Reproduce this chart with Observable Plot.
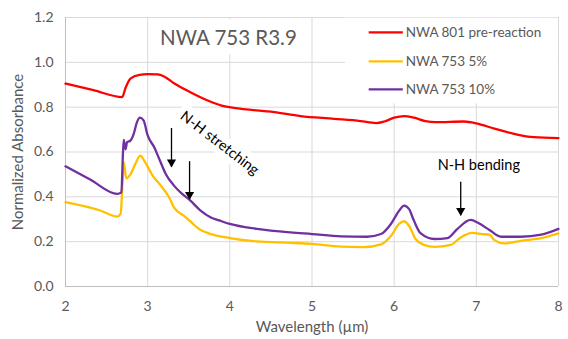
<!DOCTYPE html>
<html><head><meta charset="utf-8">
<script src="https://cdn.jsdelivr.net/npm/d3@7"></script>
<script src="https://cdn.jsdelivr.net/npm/@observablehq/plot@0.6"></script>
<style>
body{margin:0;background:#fff;}
#chart svg{font-family:Lato,"Open Sans",sans-serif;}
</style>
</head><body><div id="chart"></div>
<script>
// ---- data ----
const seriesNames = ["NWA 801 pre-reaction", "NWA 753 5%", "NWA 753 10%"];
const seriesColors = ["#ff0000", "#ffc000", "#7030a0"];

const redX = [2.0, 2.34, 2.69, 2.73, 2.79, 2.90, 3.00, 3.12, 3.20, 3.32, 3.52, 3.73, 3.89, 4.05, 4.54, 4.86, 5.27, 5.59, 5.78, 5.88, 6.00, 6.12, 6.24, 6.38, 6.50, 6.85, 7.00, 7.22, 7.46, 7.70, 8.00];
const redY = [0.905, 0.876, 0.845, 0.885, 0.927, 0.944, 0.947, 0.946, 0.937, 0.907, 0.867, 0.830, 0.808, 0.797, 0.778, 0.760, 0.748, 0.738, 0.729, 0.736, 0.753, 0.760, 0.753, 0.738, 0.733, 0.736, 0.728, 0.704, 0.681, 0.666, 0.662];

const orangeX = [2.0, 2.43, 2.63, 2.67, 2.70, 2.71, 2.74, 2.79, 2.85, 2.91, 2.97, 3.06, 3.16, 3.26, 3.32, 3.44, 3.52, 3.64, 3.77, 4.0, 4.33, 4.74, 5.0, 5.35, 5.63, 5.84, 5.96, 6.06, 6.12, 6.18, 6.26, 6.36, 6.49, 6.69, 6.81, 6.95, 7.07, 7.16, 7.22, 7.34, 7.54, 7.79, 8.0];
const orangeY = [0.376, 0.338, 0.312, 0.324, 0.500, 0.554, 0.482, 0.500, 0.547, 0.584, 0.554, 0.495, 0.450, 0.398, 0.353, 0.316, 0.290, 0.253, 0.234, 0.216, 0.201, 0.195, 0.190, 0.178, 0.176, 0.188, 0.225, 0.279, 0.291, 0.271, 0.212, 0.186, 0.177, 0.186, 0.219, 0.239, 0.234, 0.231, 0.207, 0.192, 0.204, 0.216, 0.237];

const purpleX = [2.0, 2.3, 2.63, 2.68, 2.70, 2.71, 2.73, 2.75, 2.79, 2.83, 2.87, 2.905, 2.95, 3.0, 3.08, 3.14, 3.22, 3.32, 3.42, 3.52, 3.64, 3.77, 3.87, 4.0, 4.33, 4.74, 5.0, 5.35, 5.67, 5.84, 5.96, 6.06, 6.12, 6.18, 6.24, 6.32, 6.49, 6.65, 6.77, 6.93, 7.03, 7.16, 7.30, 7.54, 7.79, 8.0];
const purpleY = [0.536, 0.477, 0.413, 0.420, 0.600, 0.654, 0.612, 0.644, 0.651, 0.681, 0.733, 0.753, 0.741, 0.674, 0.621, 0.570, 0.502, 0.450, 0.413, 0.383, 0.340, 0.308, 0.295, 0.279, 0.257, 0.241, 0.234, 0.224, 0.222, 0.234, 0.279, 0.338, 0.361, 0.346, 0.294, 0.238, 0.212, 0.216, 0.257, 0.297, 0.282, 0.252, 0.222, 0.222, 0.231, 0.257];

const xTicks = [2, 3, 4, 5, 6, 7, 8];
const yTicks = [0, 0.2, 0.4, 0.6, 0.8, 1.0, 1.2];

const titleText = "NWA 753 R3.9";
const xLabel = "Wavelength (µm)";
const yLabel = "Normalized Absorbance";
const stretchLabel = "N-H stretching";
const bendLabel = "N-H bending";
// arrows: [x, yTop, yTip]
const arrowX = [3.29, 3.51, 6.81];
const arrowTop = [0.705, 0.557, 0.465];
const arrowTip = [0.532, 0.388, 0.316];

// ---- build table ----
const seriesXs = [redX, orangeX, purpleX];
const seriesYs = [redY, orangeY, purpleY];
const rows = seriesNames.flatMap((name, i) => seriesXs[i].map((x, j) => ({series: name, x, y: seriesYs[i][j]})));
const arrows = arrowX.map((x, i) => ({x, y1: arrowTop[i], y2: arrowTip[i]}));

const grid = "#d9d9d9";
const textColor = "#595959";

// legend layout (data space)
const legX1 = 5.69, legX2 = 6.105, legTX = 6.14;
const legY = [1.134, 1.004, 0.879];

const chart = Plot.plot({
  width: 568,
  height: 339,
  marginLeft: 65,
  marginRight: 10,
  marginTop: 17,
  marginBottom: 53,
  style: {fontFamily: "Lato, 'Open Sans', sans-serif", fontSize: "13px", color: textColor, background: "white", overflow: "visible"},
  x: {domain: [2, 8]},
  y: {domain: [0, 1.2]},
  color: {domain: seriesNames, range: seriesColors},
  marks: [
    Plot.gridX(xTicks, {stroke: grid, strokeOpacity: 1}),
    Plot.gridY(yTicks, {stroke: grid, strokeOpacity: 1}),
    Plot.ruleX([2], {stroke: "#bfbfbf"}),
    Plot.ruleY([0], {stroke: "#bfbfbf"}),
    Plot.axisX({ticks: xTicks, tickSize: 0, tickPadding: 15, tickFormat: d3.format("d"), label: null, fontSize: 14}),
    Plot.axisY({ticks: yTicks, tickSize: 0, tickPadding: 12, tickFormat: d3.format(".1f"), label: null, fontSize: 14}),
    // white boxes behind legend and title
    Plot.rect([0], {x1: 5.41, x2: 7.995, y1: 0.815, y2: 1.197, fill: "white"}),
    Plot.rect([0], {x1: 3.06, x2: 4.85, y1: 1.035, y2: 1.19, fill: "white"}),
    // series
    Plot.line(rows, {x: "x", y: "y", z: "series", stroke: "series", strokeWidth: 2.3, curve: "monotone-x"}),
    // title
    Plot.text([titleText], {x: 3.15, y: 1.107, text: d => d, textAnchor: "start", fontSize: 20.5, fill: textColor}),
    // annotations
    Plot.text([stretchLabel], {x: 3.876, y: 0.64, text: d => d, rotate: 37.5, fontSize: 14.5, fill: "#000", stroke: "white", strokeWidth: 12}),
    Plot.text([bendLabel], {x: 7.03, y: 0.54, text: d => d, fontSize: 14.5, fill: "#000"}),
    Plot.ruleX(arrows, {x: "x", y1: "y1", y2: "y2", stroke: "#000", strokeWidth: 1.3}),
    Plot.dot(arrows, {x: "x", y: "y2", symbol: "triangle", rotate: 180, r: 3.4, fill: "#000", dy: -5}),
    // legend
    Plot.link(seriesNames, {x1: legX1, x2: legX2, y1: (d, i) => legY[i], y2: (d, i) => legY[i], stroke: d => d, strokeWidth: 2.3}),
    Plot.text(seriesNames, {x: legTX, y: (d, i) => legY[i], text: d => d, textAnchor: "start", fontSize: 13.5, fill: textColor}),
    // axis labels
    Plot.text([xLabel], {frameAnchor: "bottom", dy: 45, text: d => d, fontSize: 15, fill: textColor}),
    Plot.text([yLabel], {frameAnchor: "left", dx: -47, rotate: -90, textAnchor: "middle", text: d => d, fontSize: 15, fill: textColor})
  ]
});
document.getElementById("chart").append(chart);
</script></body></html>
